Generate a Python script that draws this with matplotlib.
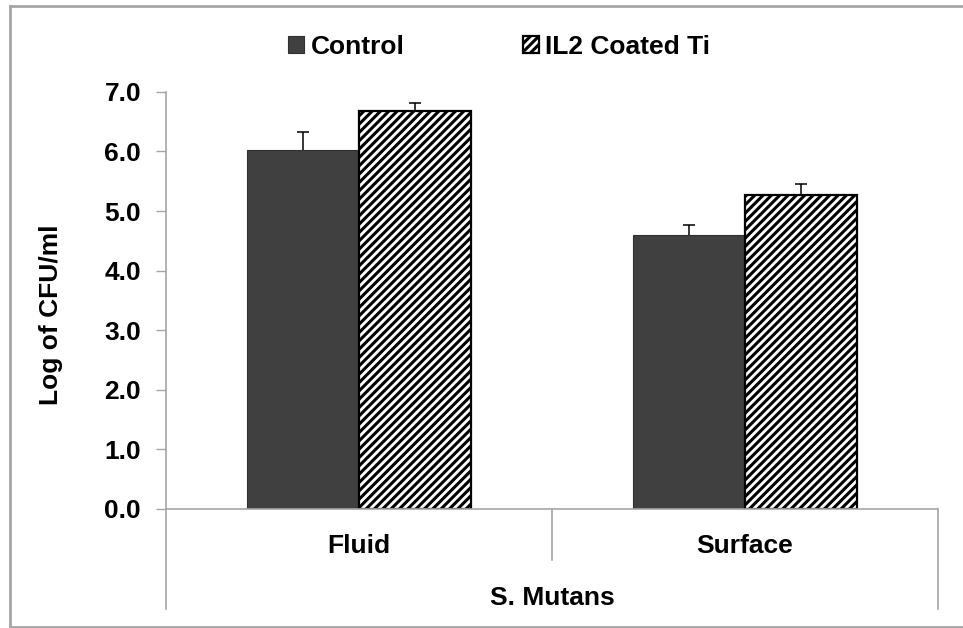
import numpy as np
import matplotlib
matplotlib.use('agg')
import matplotlib.pyplot as plt
from matplotlib.lines import Line2D

plt.rcParams['font.family'] = ['Liberation Sans', 'DejaVu Sans']
plt.rcParams['font.weight'] = 'bold'
plt.rcParams['font.size'] = 19
plt.rcParams['hatch.linewidth'] = 2.2

# data
groups = ['Fluid', 'Surface']
organism = 'S. Mutans'
series = ['Control', 'IL2 Coated Ti']
control = [6.03, 4.59]
control_err = [0.30, 0.18]
coated = [6.67, 5.27]
coated_err = [0.14, 0.18]
yticks = [0.0, 1.0, 2.0, 3.0, 4.0, 5.0, 6.0, 7.0]

grey = '#a6a6a6'

fig = plt.figure(figsize=(9.63, 6.28), dpi=100)
ax = fig.add_axes([0.1724, 0.1895, 0.8016, 0.6643])

x = np.arange(len(groups))
w = 0.29
b1 = ax.bar(x - w/2, control, w, color='#404040', edgecolor='#303030', linewidth=0.8,
            label=series[0])
b2 = ax.bar(x + w/2, coated, w, color='white', edgecolor='black', linewidth=1.6,
            hatch='////', label=series[1])

# upper-only error bars
for xs, ys, es in [(x - w/2, control, control_err), (x + w/2, coated, coated_err)]:
    ys = np.array(ys)
    es = np.array(es)
    ax.errorbar(xs, ys, yerr=[np.zeros(len(es)), es], fmt='none', ecolor='black',
                elinewidth=1.1, capsize=0, zorder=3)
    ax.plot(xs, ys + es, ls='none', marker='_', markersize=8, mew=1.1, color='black', zorder=3)

ax.set_xlim(-0.5, len(groups) - 0.5)
ax.set_ylim(0, 7)
ax.set_yticks(yticks)
ax.set_yticklabels(['%.1f' % t for t in yticks])
ax.set_xticks([])
ax.tick_params(axis='y', direction='out', length=7, width=1, color=grey, pad=11)

for s in ['top', 'right']:
    ax.spines[s].set_visible(False)
ax.spines['left'].set_color(grey)
ax.spines['bottom'].set_color(grey)
ax.spines['left'].set_linewidth(1.2)
ax.spines['bottom'].set_linewidth(1.2)

ax.set_ylabel('Log of CFU/ml', fontsize=19, fontweight='bold')
ax.yaxis.set_label_coords(-0.1334, 0.465)

# multi-level category axis
for xv, ybot in [(-0.5, -1.68), (0.5, -0.86), (1.5, -1.68)]:
    ax.plot([xv, xv], [0, ybot], color=grey, lw=1.2, clip_on=False)
for xi, g in zip(x, groups):
    ax.text(xi, -0.74, g, ha='center', va='baseline', fontsize=19, fontweight='bold')
ax.text(0.5, -1.61, organism, ha='center', va='baseline', fontsize=19, fontweight='bold')

fig.legend(handles=[b1.patches[0], b2.patches[0]], labels=series,
           loc='center left', bbox_to_anchor=(288/963, 0.925), ncol=2, frameon=False,
           handlelength=0.6, handleheight=0.6, handletextpad=0.25,
           columnspacing=4.5, borderpad=0, borderaxespad=0,
           prop={'size': 19, 'weight': 'bold'})

# outer frame of the chart
fx0, fy0, fy1 = 10/963, 1/628, 1 - 6/628
fig.add_artist(Line2D([fx0, fx0], [fy0, fy1], color=grey, lw=2))
fig.add_artist(Line2D([fx0, 1.0], [fy1, fy1], color=grey, lw=2))
fig.add_artist(Line2D([fx0, 1.0], [fy0, fy0], color=grey, lw=2))

fig.savefig('out.png', dpi=100)
